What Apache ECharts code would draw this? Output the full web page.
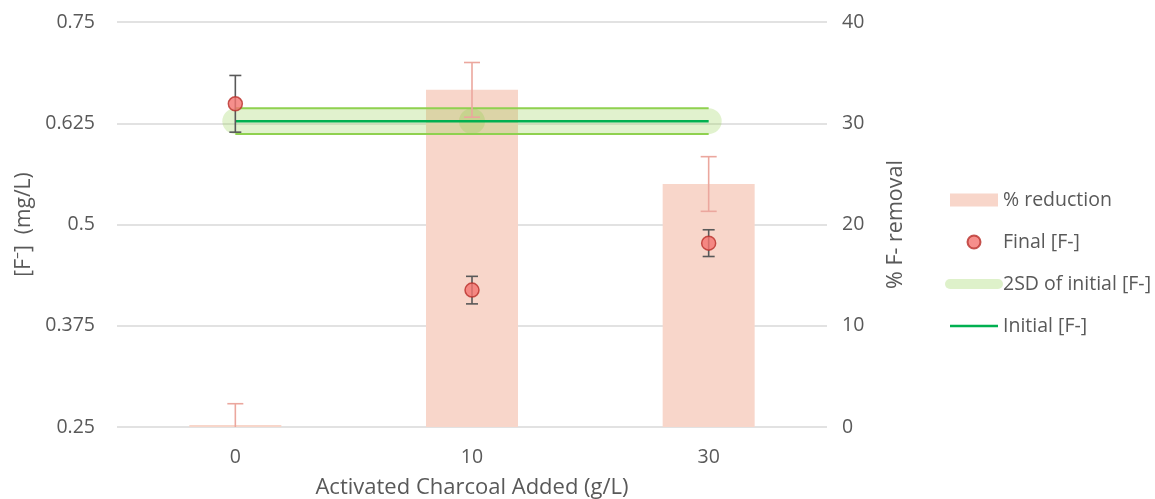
<!DOCTYPE html>
<html>
<head>
<meta charset="utf-8">
<script src="https://cdn.jsdelivr.net/npm/echarts@6/dist/echarts.min.js"></script>
<style>
  html, body { margin: 0; padding: 0; background: #fff; }
  #chart { width: 1155px; height: 499px; }
</style>
</head>
<body>
<div id="chart"></div>
<script>
// Charcoal dose categories (g/L)
const categories = ['0', '10', '30'];
// % fluoride removal (right axis) with error
const removalPct = [0, 33.3, 24.0];
const removalErr = [2.3, 2.7, 2.7];
// Final fluoride concentration (mg/L) with error
const finalF = [0.649, 0.419, 0.477];
const finalErr = [0.035, 0.017, 0.0165];
// Initial fluoride concentration and its 2SD band
const initialF = [0.6276, 0.6276, 0.6276];
const sd2Upper = [0.6435, 0.6435, 0.6435];
const sd2Lower = [0.6117, 0.6117, 0.6117];
// Axis tick ranges
const leftTicks = { min: 0.25, max: 0.75, step: 0.125 };
const rightTicks = { min: 0, max: 40, step: 10 };

const FONT = '"Open Sans", "Noto Sans", sans-serif';
const TXT = '#595959';
const HIDDEN = { color: 'rgba(0,0,0,0)', borderColor: 'rgba(0,0,0,0)', borderWidth: 0 };

function errorBars(values, errs, yAxisIndex, color, capHalf, name) {
  return {
    type: 'custom',
    name: name,
    yAxisIndex: yAxisIndex,
    clip: true,
    data: values.map((v, i) => [i, v, errs[i]]),
    encode: { x: 0, y: 1 },
    renderItem: function (params, api) {
      const x = api.value(0), y = api.value(1), e = api.value(2);
      const top = api.coord([x, y + e]);
      const bot = api.coord([x, y - e]);
      const style = { stroke: color, lineWidth: 1.6 };
      return {
        type: 'group',
        children: [
          { type: 'line', shape: { x1: top[0], y1: top[1], x2: bot[0], y2: bot[1] }, style },
          { type: 'line', shape: { x1: top[0] - capHalf, y1: top[1], x2: top[0] + capHalf, y2: top[1] }, style },
          { type: 'line', shape: { x1: bot[0] - capHalf, y1: bot[1], x2: bot[0] + capHalf, y2: bot[1] }, style }
        ]
      };
    },
    silent: true,
    z: 5
  };
}

const bandColor = 'rgba(146, 208, 80, 0.28)';

const option = {
  animation: false,
  textStyle: { fontFamily: FONT },
  grid: { left: 117, right: 328, top: 22, bottom: 72, outerBoundsMode: 'none', containLabel: false },
  legend: {
    orient: 'vertical',
    left: 945,
    top: 187,
    padding: 0,
    itemWidth: 48,
    itemHeight: 13,
    itemGap: 16,
    textStyle: { fontFamily: FONT, fontSize: 19.5, color: TXT, lineHeight: 26 },
    data: [
      { name: '% reduction', icon: 'rect' },
      { name: 'Final [F-]', icon: 'circle' },
      { name: '2SD of initial [F-]', itemStyle: HIDDEN,
        lineStyle: { width: 10, cap: 'round', color: 'rgba(146,208,80,0.3)' } },
      { name: 'Initial [F-]', itemStyle: HIDDEN, lineStyle: { width: 2.5 } }
    ]
  },
  xAxis: {
    type: 'category',
    data: categories,
    name: 'Activated Charcoal Added (g/L)',
    nameLocation: 'middle',
    nameGap: 50,
    nameTextStyle: { fontSize: 22, color: TXT, fontFamily: FONT },
    axisLine: { show: false },
    axisTick: { show: false },
    axisLabel: { fontSize: 19.5, color: TXT, margin: 20, fontFamily: FONT }
  },
  yAxis: [
    {
      type: 'value',
      min: leftTicks.min, max: leftTicks.max, interval: leftTicks.step,
      name: '[F\u207B]  (mg/L)',
      nameLocation: 'middle',
      nameRotate: 90,
      nameGap: 82,
      nameTextStyle: { fontSize: 21, color: TXT, fontFamily: FONT },
      axisLine: { show: false },
      axisTick: { show: false },
      axisLabel: { fontSize: 19.5, color: TXT, margin: 22, fontFamily: FONT },
      splitLine: { lineStyle: { color: '#d9d9d9', width: 1.5 } }
    },
    {
      type: 'value',
      position: 'right',
      min: rightTicks.min, max: rightTicks.max, interval: rightTicks.step,
      name: '% F- removal',
      nameLocation: 'middle',
      nameRotate: 90,
      nameGap: 58,
      nameTextStyle: { fontSize: 21.5, color: TXT, fontFamily: FONT },
      axisLine: { show: false },
      axisTick: { show: false },
      axisLabel: { fontSize: 19.5, color: TXT, margin: 15, fontFamily: FONT },
      splitLine: { show: false }
    }
  ],
  series: [
    {
      name: '% reduction',
      type: 'bar',
      yAxisIndex: 1,
      data: removalPct,
      barWidth: 92,
      barMinHeight: 2,
      itemStyle: { color: '#f8d6ca' },
      z: 1
    },
    errorBars(removalPct, removalErr, 1, '#eba79e', 8, 'removal error'),
    {
      name: '2SD of initial [F-]',
      type: 'line',
      data: [initialF[0], initialF[1], '-'],
      symbol: 'none',
      lineStyle: { width: 26, color: bandColor, cap: 'round', join: 'round' },
      itemStyle: { color: bandColor },
      silent: true,
      z: 3
    },
    {
      name: '2SD of initial [F-]',
      type: 'line',
      data: ['-', initialF[1], initialF[2]],
      symbol: 'none',
      lineStyle: { width: 26, color: bandColor, cap: 'round', join: 'round' },
      itemStyle: { color: bandColor },
      silent: true,
      z: 3
    },
    {
      name: 'upper 2SD',
      type: 'line',
      data: sd2Upper,
      symbol: 'none',
      lineStyle: { width: 1.8, color: '#8fd14f' },
      silent: true,
      z: 3
    },
    {
      name: 'lower 2SD',
      type: 'line',
      data: sd2Lower,
      symbol: 'none',
      lineStyle: { width: 1.8, color: '#8fd14f' },
      silent: true,
      z: 3
    },
    {
      name: 'Initial [F-]',
      type: 'line',
      data: initialF,
      symbol: 'none',
      lineStyle: { width: 2.5, color: '#00b050' },
      itemStyle: { color: '#00b050' },
      z: 4
    },
    errorBars(finalF, finalErr, 0, '#595959', 6, 'final error'),
    {
      name: 'Final [F-]',
      type: 'scatter',
      data: finalF,
      symbolSize: 14,
      itemStyle: { color: '#f4736f', borderColor: '#b8302a', borderWidth: 1.5 },
      z: 6
    }
  ]
};

const chart = echarts.init(document.getElementById('chart'), null, { renderer: 'canvas' });
chart.setOption(option);
</script>
</body>
</html>
